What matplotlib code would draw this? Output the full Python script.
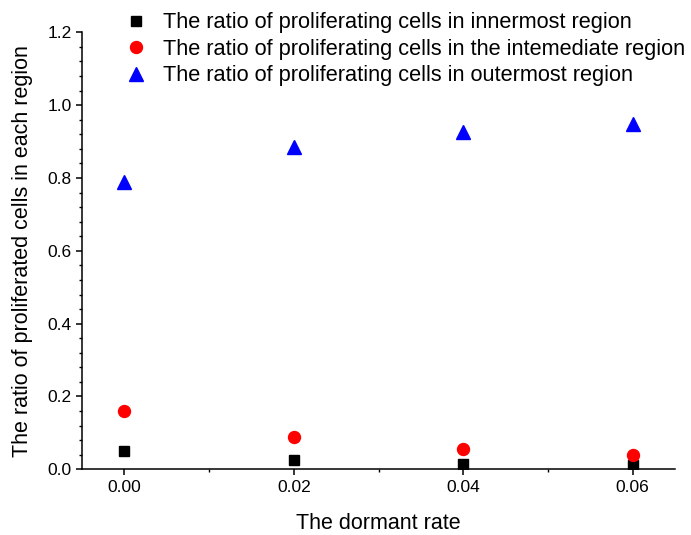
import matplotlib.pyplot as plt
from matplotlib.ticker import MultipleLocator

plt.rcParams['font.family'] = ['Liberation Sans', 'DejaVu Sans']

dormant_rate = [0.00, 0.02, 0.04, 0.06]
innermost = [0.050, 0.026, 0.015, 0.011]
intermediate = [0.159, 0.088, 0.057, 0.040]
outermost = [0.789, 0.885, 0.926, 0.948]

labels = ['The ratio of proliferating cells in innermost region',
          'The ratio of proliferating cells in the intemediate region',
          'The ratio of proliferating cells in outermost region']

fig = plt.figure(figsize=(6.91, 5.35), dpi=100)
ax = fig.add_axes([0.1187, 0.1228, 0.8582, 0.8168])

ax.plot(dormant_rate, innermost, 's', color='black', ms=7.2, label=labels[0])
ax.plot(dormant_rate, intermediate, 'o', color='red', ms=8.6, label=labels[1])
ax.plot(dormant_rate, outermost, '^', color='blue', ms=9.5, label=labels[2])

ax.set_xlim(-0.005, 0.065)
ax.set_ylim(0, 1.2)
ax.xaxis.set_major_locator(MultipleLocator(0.02))
ax.xaxis.set_minor_locator(MultipleLocator(0.01))
ax.yaxis.set_major_locator(MultipleLocator(0.2))
ax.yaxis.set_minor_locator(MultipleLocator(0.04))
ax.xaxis.set_major_formatter(plt.FormatStrFormatter('%.2f'))
ax.yaxis.set_major_formatter(plt.FormatStrFormatter('%.1f'))

for s in ['top', 'right']:
    ax.spines[s].set_visible(False)
for s in ['left', 'bottom']:
    ax.spines[s].set_linewidth(1.1)
ax.tick_params(which='major', direction='out', length=4, width=1.1, labelsize=12.5)
ax.tick_params(which='minor', direction='out', length=2.5, width=1.0)

ax.set_xlabel('The dormant rate', fontsize=15.5, labelpad=13)
ax.set_ylabel('The ratio of proliferated cells in each region', fontsize=15.5, labelpad=10)

fig.legend(loc='upper left', bbox_to_anchor=(0.1695, 1.0), frameon=False,
           fontsize=15.7, handlelength=0.6, handletextpad=0.94,
           labelspacing=0.25, borderaxespad=0, borderpad=0.57)

fig.savefig('out.png', dpi=100)
